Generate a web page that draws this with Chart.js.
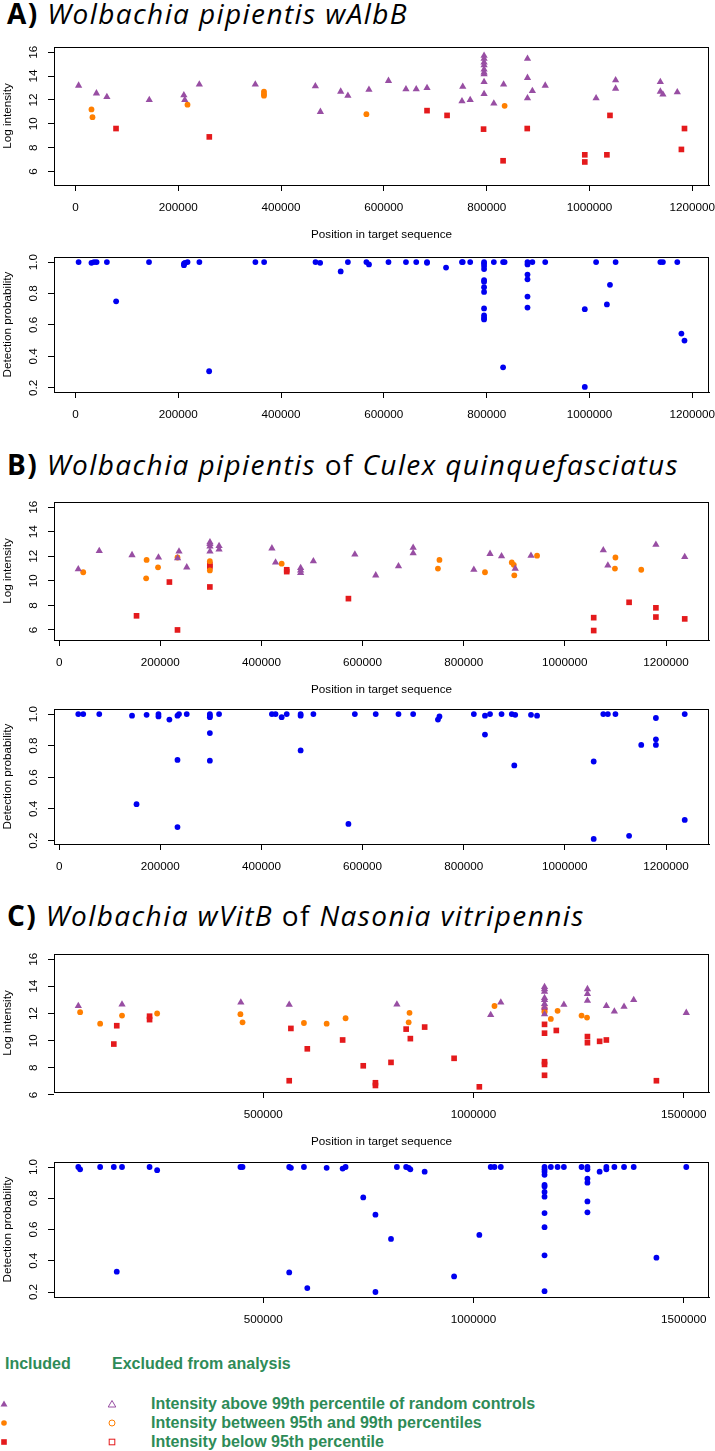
<!DOCTYPE html>
<html><head><meta charset="utf-8">
<script src="https://cdn.jsdelivr.net/npm/chart.js@4.4.1/dist/chart.umd.min.js"></script>
<style>
html,body{margin:0;padding:0;background:#fff;}
body{width:715px;height:1451px;position:relative;overflow:hidden;font-family:"Liberation Sans",Arial,sans-serif;}
canvas{position:absolute;left:0;}
.title{position:absolute;left:7px;font-family:"Open Sans",sans-serif;font-size:28px;line-height:28px;letter-spacing:1.4px;white-space:nowrap;color:#000;}
.title b{font-weight:700;font-style:normal;}
.title i{font-style:italic;font-weight:400;}
.title span{font-style:normal;font-weight:400;}
.leg{position:absolute;font-family:"Liberation Sans",Arial,sans-serif;font-weight:bold;font-size:16px;line-height:16px;color:#2E8B57;white-space:nowrap;}
svg{position:absolute;left:0;top:0;}
</style></head><body>
<div class="title" style="top:-1px"><b>A)</b> <i>Wolbachia pipientis wAlbB</i></div>
<div class="title" style="top:450px"><b>B)</b> <i>Wolbachia pipientis</i> <span>of</span> <i>Culex quinquefasciatus</i></div>
<div class="title" style="top:901px"><b>C)</b> <i>Wolbachia wVitB</i> <span>of</span> <i>Nasonia vitripennis</i></div>

<div class="leg" style="left:5px;top:1356px">Included</div>
<div class="leg" style="left:112px;top:1356px">Excluded from analysis</div>
<div class="leg" style="left:151px;top:1396px">Intensity above 99th percentile of random controls</div>
<div class="leg" style="left:151px;top:1415px">Intensity between 95th and 99th percentiles</div>
<div class="leg" style="left:151px;top:1434px">Intensity below 95th percentile</div>
<svg width="715" height="1451" style="pointer-events:none">
  <polygon points="4,1400.5 7.5,1406.5 0.5,1406.5" fill="#984EA3"/>
  <circle cx="4" cy="1423" r="2.8" fill="#FF7F00"/>
  <rect x="1.2" y="1439.2" width="5.6" height="5.6" fill="#E41A1C"/>
  <polygon points="112,1400.5 115.8,1407 108.2,1407" fill="none" stroke="#984EA3" stroke-width="1"/>
  <circle cx="112" cy="1423" r="3" fill="none" stroke="#FF7F00" stroke-width="1"/>
  <rect x="109.2" y="1439.2" width="5.6" height="5.6" fill="none" stroke="#E41A1C" stroke-width="1"/>
</svg>

<script>
// ---------------- DATA ----------------
// Tick values / labels
const xTicksAB = [0, 200000, 400000, 600000, 800000, 1000000, 1200000];
const xTicksC = [500000, 1000000, 1500000];
const intensityTicks = [6, 8, 10, 12, 14, 16];
const intensityTickLabels = ['6', '8', '10', '12', '14', '16'];
const probTicks = [0.2, 0.4, 0.6, 0.8, 1.0];
const probTickLabels = ['0.2', '0.4', '0.6', '0.8', '1.0'];

// Panel A: Wolbachia pipientis wAlbB
const aTriPos = [6000,40700,61000,143500,210800,212600,240900,349800,466700,476500,516000,530000,571000,609000,643000,663000,684000,753500,752000,768000,795000,795000,795000,795000,795000,795000,795000,795000,795000,814000,833000,879500,879500,879500,889000,914000,1013000,1051000,1051000,1138000,1138000,1143000,1171000];
const aTriInt = [13.2,12.55,12.25,12.0,12.4,12.0,13.3,13.3,13.15,11.0,12.7,12.35,12.85,13.6,12.9,12.9,13.0,13.1,11.9,12.0,15.7,15.45,15.15,14.9,14.55,14.3,14.15,13.5,12.5,11.7,13.3,15.45,13.85,12.15,12.75,13.2,12.15,13.65,12.95,13.5,12.7,12.45,12.65];
const aCirPos = [31000,33000,217900,366700,366700,366700,566000,835000];
const aCirInt = [11.2,10.55,11.6,12.7,12.5,12.35,10.8,11.5];
const aSqPos = [78800,260300,684000,723000,794000,832000,879000,991000,991000,1034000,1040000,1179000,1185000];
const aSqInt = [9.6,8.9,11.1,10.7,9.55,6.9,9.6,7.4,6.8,7.4,10.7,7.85,9.6];
const aProbPos = [6000,31000,36000,41000,61000,79000,143000,211000,211000,213000,218000,241000,260000,350000,367000,467000,476000,516000,530000,566000,571000,609000,643000,663000,684000,684000,721000,752000,753500,768000,795000,795000,795000,795000,795000,795000,795000,795000,795000,795000,795000,795000,814000,832000,835000,832000,879500,879500,879500,879500,879500,879500,889000,914000,991000,991000,1013000,1034000,1040000,1051000,1138000,1143000,1171000,1179000,1185000];
const aProb = [1.0,0.995,1.0,1.0,1.0,0.75,1.0,0.98,0.99,0.995,1.0,1.0,0.305,1.0,1.0,1.0,0.995,0.94,1.0,1.0,0.985,1.0,1.0,1.0,1.0,0.995,0.965,1.0,1.0,1.0,1.0,0.99,0.975,0.955,0.885,0.875,0.84,0.81,0.705,0.66,0.645,0.635,1.0,1.0,1.0,0.33,1.0,0.985,0.92,0.89,0.78,0.71,1.0,1.0,0.70,0.205,1.0,0.73,0.855,1.0,1.0,1.0,1.0,0.545,0.50];

// Panel B: Wolbachia pipientis of Culex quinquefasciatus
const bTriPos = [37800,79300,144100,196400,234200,237000,252300,298200,298200,298200,298200,316200,316200,420700,427900,477500,477500,477500,502700,584700,626000,671000,700000,700000,820000,852000,874800,901800,933000,1076000,1085000,1180000,1237000];
const bTriInt = [10.95,12.43,12.1,11.9,11.85,12.4,11.1,13.15,13.0,12.8,12.4,12.85,12.55,12.65,11.5,11.05,10.85,10.65,11.6,12.15,10.45,11.2,12.7,12.25,10.9,12.2,12.0,11.0,12.05,12.5,11.25,12.95,11.95];
const bCirPos = [47600,172900,172000,195500,234000,298000,298000,440000,749000,752000,842000,895000,899000,900000,945000,1100000,1099000,1151000];
const bCirInt = [10.7,11.7,10.2,11.1,11.9,11.6,10.85,11.4,11.0,11.7,10.7,11.5,11.3,10.45,12.05,11.9,11.0,10.9];
const bSqPos = [153000,218000,234000,298000,298000,298000,450000,450000,572000,1057000,1057000,1127000,1180000,1180000,1237000];
const bSqInt = [7.15,9.9,6.0,11.3,11.15,9.5,10.9,10.75,8.55,7.0,5.95,8.25,7.8,7.05,6.9];
const bProbPos = [37800,47600,79300,144100,153000,172900,196400,196400,218000,234000,237000,234000,234000,252300,298000,298000,298000,298000,298000,316200,420700,427900,440000,450000,477500,477500,477500,502700,572000,584700,626000,671000,700000,749000,752000,820000,842000,842000,852000,874800,895000,901800,900000,933000,945000,1057000,1057000,1076000,1085000,1100000,1127000,1151000,1180000,1180000,1180000,1237000,1237000];
const bProb = [1.0,1.0,1.0,0.99,0.43,0.995,1.0,0.985,0.965,0.99,1.0,0.71,0.285,1.0,1.0,0.99,0.98,0.88,0.705,1.0,1.0,1.0,0.98,1.0,1.0,0.99,0.77,1.0,0.305,1.0,1.0,1.0,1.0,0.965,0.985,1.0,0.99,0.87,1.0,1.0,1.0,0.995,0.675,0.995,0.99,0.70,0.21,1.0,1.0,1.0,0.23,0.805,0.975,0.84,0.805,1.0,0.33];

// Panel C: Wolbachia wVitB of Nasonia vitripennis
const cTriPos = [60600,164500,447000,562000,818000,1041000,1065000,1169000,1169000,1169000,1169000,1169000,1169000,1169000,1169000,1215000,1271000,1271000,1271000,1316000,1335000,1358000,1381000,1506000];
const cTriInt = [12.55,12.67,12.82,12.65,12.67,11.9,12.82,13.95,13.8,13.6,13.15,13.0,12.7,12.45,11.95,12.65,13.8,13.45,12.95,12.55,12.15,12.5,13.0,12.05];
const cCirPos = [64900,112500,164500,248000,446000,451000,597000,651000,696000,848000,846000,1050000,1169000,1184000,1200000,1257000,1270000];
const cCirInt = [12.1,11.25,11.85,12.0,11.95,11.35,11.3,11.25,11.65,12.05,11.35,12.55,12.1,11.6,12.2,11.85,11.7];
const cSqPos = [145000,152000,230000,230000,562000,566000,605000,689000,738000,767000,767000,804000,840000,850000,884000,954000,1014000,1169000,1169000,1169000,1169000,1169000,1169000,1197000,1271000,1271000,1300000,1316000,1435000];
const cSqInt = [9.75,11.1,11.8,11.55,7.05,10.9,9.4,10.05,8.15,6.9,6.7,8.4,10.85,10.15,11.0,8.7,6.6,12.3,11.2,10.55,8.45,8.25,7.45,10.75,10.3,9.85,9.95,10.05,7.05];
const cProbPos = [60600,64900,112500,145000,152000,164500,230000,248000,446000,451000,562000,566000,562000,597000,605000,651000,689000,696000,738000,767000,767000,804000,818000,840000,846000,850000,884000,954000,1014000,1041000,1050000,1065000,1169000,1169000,1169000,1169000,1169000,1169000,1169000,1169000,1169000,1169000,1169000,1169000,1184000,1200000,1215000,1257000,1271000,1271000,1271000,1271000,1271000,1271000,1300000,1316000,1316000,1335000,1358000,1381000,1435000,1506000];
const cProb = [1.0,0.985,1.0,1.0,0.33,1.0,1.0,0.98,1.0,1.0,1.0,0.995,0.325,1.0,0.225,0.995,0.99,1.0,0.805,0.695,0.2,0.54,1.0,1.0,0.995,0.985,0.97,0.30,0.565,1.0,1.0,1.0,1.0,0.985,0.97,0.95,0.885,0.875,0.84,0.81,0.705,0.615,0.435,0.205,1.0,1.0,1.0,1.0,1.0,0.985,0.925,0.9,0.78,0.71,0.97,1.0,0.985,1.0,1.0,1.0,0.42,1.0];

const xTitle = 'Position in target sequence';
const yTitleTop = 'Log intensity';
const yTitleBottom = 'Detection probability';

// ---------------- STYLE / LAYOUT ----------------
const PURPLE = '#984EA3', ORANGE = '#FF7F00', RED = '#E41A1C', BLUE = '#0000F0';
const FONT = '"Liberation Sans", Arial, sans-serif';
const FS = 11.7;
const PADT = 12;
const pts = (xs, ys) => xs.map((x, i) => ({ x: x, y: ys[i] }));

function topSets(tp, ti, cp, ci, sp, si) {
  return [
    { data: pts(tp, ti), pointStyle: 'triangle', radius: 4.2, backgroundColor: PURPLE, borderWidth: 0 },
    { data: pts(cp, ci), pointStyle: 'circle', radius: 2.9, backgroundColor: ORANGE, borderWidth: 0 },
    { data: pts(sp, si), pointStyle: 'rect', radius: 4, backgroundColor: RED, borderWidth: 0 }
  ];
}
function probSets(pp, pv) {
  return [{ data: pts(pp, pv), pointStyle: 'circle', radius: 2.9, backgroundColor: BLUE, borderWidth: 0 }];
}

const panels = [
  { top: 47, bottom: 185, axisH: 57, xT: xTitle, yT: yTitleTop, xMin: -41900, xMax: 1232700, yMin: 4.87, yMax: 16.43, xTicks: xTicksAB, yTicks: intensityTicks, yLabels: intensityTickLabels, sets: topSets(aTriPos, aTriInt, aCirPos, aCirInt, aSqPos, aSqInt) },
  { top: 257, bottom: 392, axisH: 30, xT: '', yT: yTitleBottom, xMin: -41900, xMax: 1232700, yMin: 0.173, yMax: 1.032, xTicks: xTicksAB, yTicks: probTicks, yLabels: probTickLabels, sets: probSets(aProbPos, aProb) },
  { top: 502, bottom: 640, axisH: 57, xT: xTitle, yT: yTitleTop, xMin: -10200, xMax: 1285000, yMin: 5.18, yMax: 16.42, xTicks: xTicksAB, yTicks: intensityTicks, yLabels: intensityTickLabels, sets: topSets(bTriPos, bTriInt, bCirPos, bCirInt, bSqPos, bSqInt) },
  { top: 709, bottom: 844, axisH: 30, xT: '', yT: yTitleBottom, xMin: -10200, xMax: 1285000, yMin: 0.178, yMax: 1.032, xTicks: xTicksAB, yTicks: probTicks, yLabels: probTickLabels, sets: probSets(bProbPos, bProb) },
  { top: 954, bottom: 1092, axisH: 57, xT: xTitle, yT: yTitleTop, xMin: 2800, xMax: 1560000, yMin: 6.22, yMax: 16.38, xTicks: xTicksC, yTicks: intensityTicks, yLabels: intensityTickLabels, sets: topSets(cTriPos, cTriInt, cCirPos, cCirInt, cSqPos, cSqInt) },
  { top: 1162, bottom: 1297, axisH: 30, xT: '', yT: yTitleBottom, xMin: 2800, xMax: 1560000, yMin: 0.168, yMax: 1.032, xTicks: xTicksC, yTicks: probTicks, yLabels: probTickLabels, sets: probSets(cProbPos, cProb) }
];

const rPlot = {
  id: 'rplot',
  afterDraw(chart) {
    const ctx = chart.ctx, a = chart.chartArea, y = chart.scales.y;
    const labels = chart.options.plugins.rplot.labels;
    ctx.save();
    ctx.strokeStyle = '#000'; ctx.lineWidth = 1;
    ctx.strokeRect(Math.round(a.left) + 0.5, Math.round(a.top) + 0.5, Math.round(a.right - a.left) - 1, Math.round(a.bottom - a.top));
    ctx.fillStyle = '#000';
    ctx.font = FS + 'px ' + FONT;
    ctx.textAlign = 'center'; ctx.textBaseline = 'middle';
    y.ticks.forEach((t, i) => {
      const py = y.getPixelForValue(t.value);
      ctx.save(); ctx.translate(a.left - 20.5, py); ctx.rotate(-Math.PI / 2);
      ctx.fillText(labels[i], 0, 0); ctx.restore();
    });
    ctx.restore();
  }
};

panels.forEach(p => {
  const c = document.createElement('canvas');
  const H = PADT + (p.bottom - p.top) + p.axisH;
  c.width = 715; c.height = H;
  c.style.width = '715px'; c.style.height = H + 'px';
  c.style.top = (p.top - PADT) + 'px';
  document.body.appendChild(c);
  new Chart(c, {
    type: 'scatter',
    data: { datasets: p.sets },
    options: {
      responsive: false, animation: false, devicePixelRatio: 1, events: [],
      layout: { padding: { top: PADT, right: 6, left: 0, bottom: 0 } },
      plugins: { legend: { display: false }, tooltip: { enabled: false }, rplot: { labels: p.yLabels } },
      scales: {
        x: {
          type: 'linear', position: 'bottom', min: p.xMin, max: p.xMax,
          afterBuildTicks: s => { s.ticks = p.xTicks.map(v => ({ value: v })); },
          afterFit: s => { s.height = p.axisH; s.paddingLeft = 0; s.paddingRight = 0; },
          ticks: { display: true, autoSkip: false, maxRotation: 0, minRotation: 0, padding: 9.5, color: '#000', font: { family: FONT, size: FS }, callback: v => String(v) },
          grid: { display: true, drawOnChartArea: false, drawTicks: true, tickLength: 6, color: '#000', lineWidth: 1 },
          border: { display: true, color: '#000', width: 1 },
          title: { display: !!p.xT, text: p.xT, color: '#000', font: { family: FONT, size: FS }, padding: 0 }
        },
        y: {
          type: 'linear', position: 'left', min: p.yMin, max: p.yMax,
          afterBuildTicks: s => { s.ticks = p.yTicks.map(v => ({ value: v })); },
          afterFit: s => { s.width = 54; s.paddingTop = 0; s.paddingBottom = 0; },
          ticks: { display: false },
          grid: { display: true, drawOnChartArea: false, drawTicks: true, tickLength: 6, color: '#000', lineWidth: 1 },
          border: { display: true, color: '#000', width: 1 },
          title: { display: true, text: p.yT, color: '#000', font: { family: FONT, size: FS }, padding: { top: 1, bottom: 0 } }
        }
      }
    },
    plugins: [rPlot]
  });
});
</script>
</body></html>
